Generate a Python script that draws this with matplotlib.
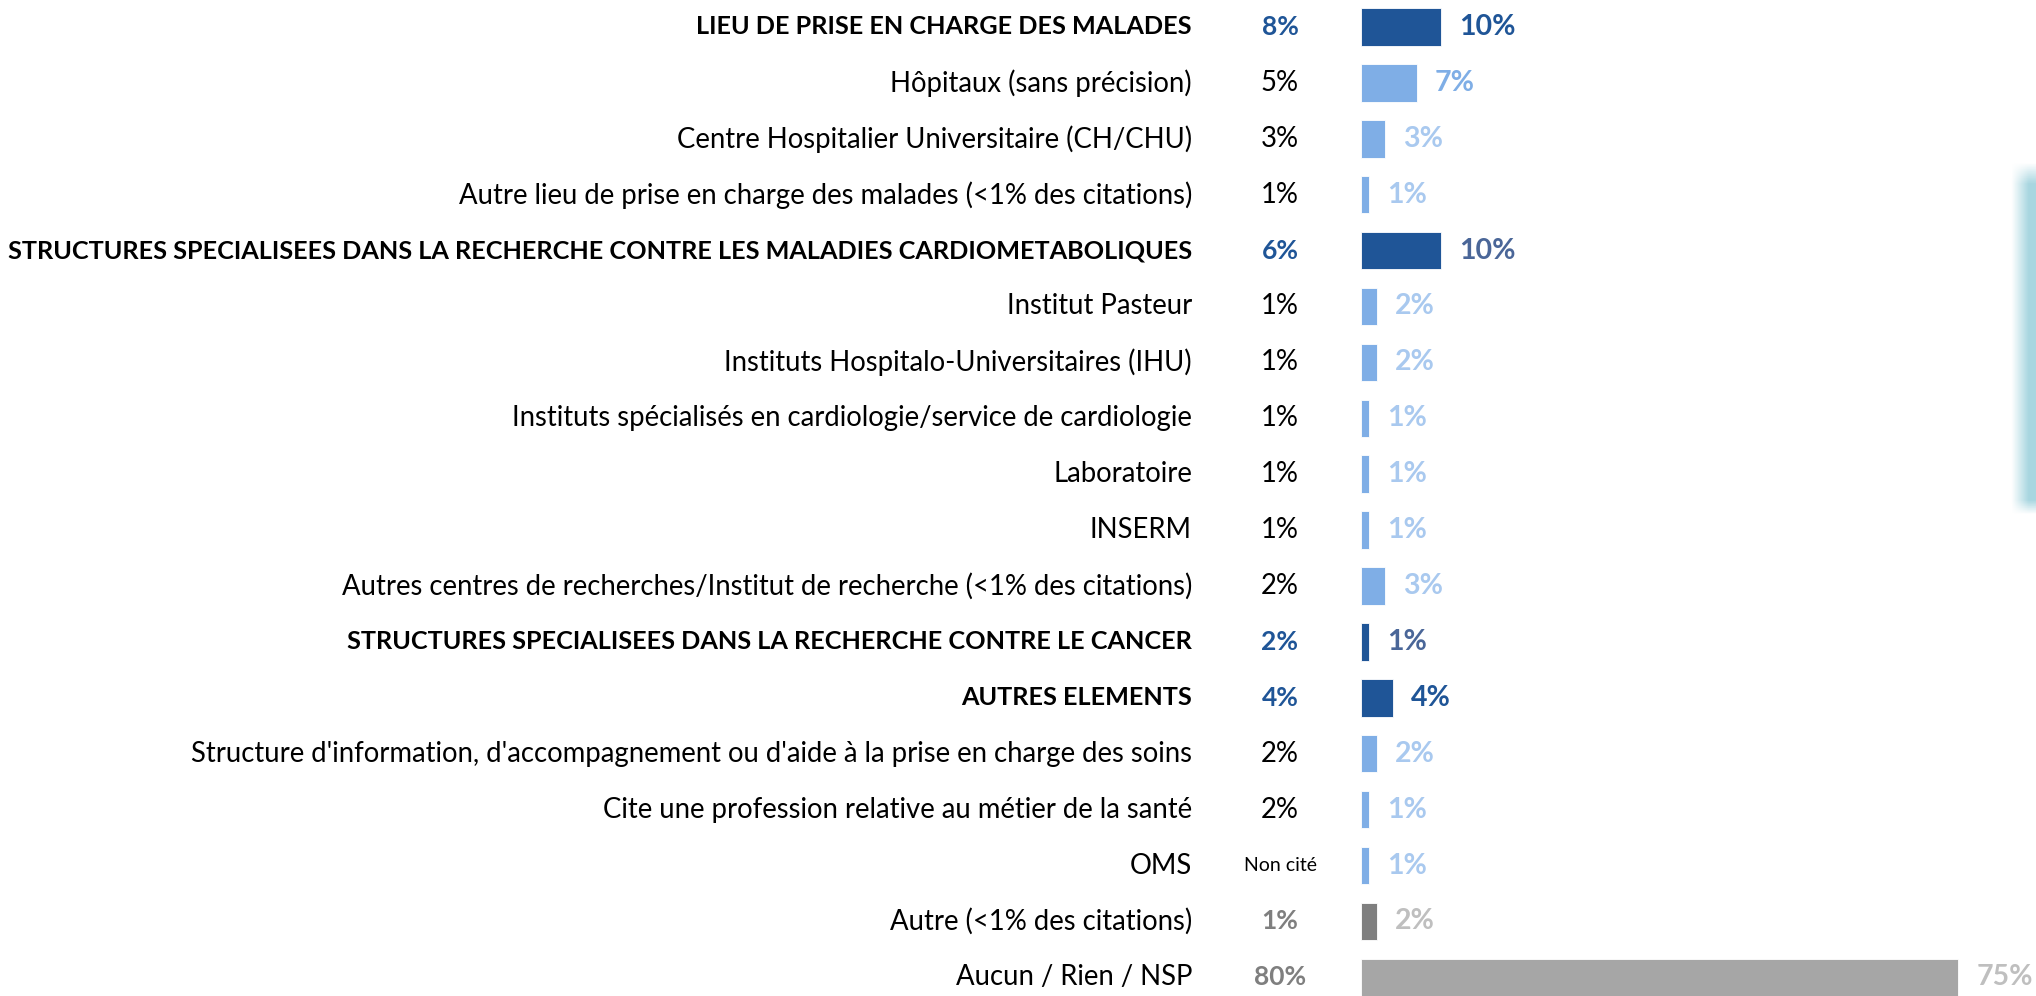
import matplotlib
matplotlib.use("Agg")
import matplotlib.pyplot as plt
import numpy as np

plt.rcParams['font.family'] = ['Lato', 'DejaVu Sans']

# rows, top to bottom
labels = [
    "LIEU DE PRISE EN CHARGE DES MALADES",
    "Hôpitaux (sans précision)",
    "Centre Hospitalier Universitaire (CH/CHU)",
    "Autre lieu de prise en charge des malades (<1% des citations)",
    "STRUCTURES SPECIALISEES DANS LA RECHERCHE CONTRE LES MALADIES CARDIOMETABOLIQUES",
    "Institut Pasteur",
    "Instituts Hospitalo-Universitaires (IHU)",
    "Instituts spécialisés en cardiologie/service de cardiologie",
    "Laboratoire",
    "INSERM",
    "Autres centres de recherches/Institut de recherche (<1% des citations)",
    "STRUCTURES SPECIALISEES DANS LA RECHERCHE CONTRE LE CANCER",
    "AUTRES ELEMENTS",
    "Structure d'information, d'accompagnement ou d'aide à la prise en charge des soins",
    "Cite une profession relative au métier de la santé",
    "OMS",
    "Autre (<1% des citations)",
    "Aucun / Rien / NSP",
]
previous = ["8%", "5%", "3%", "1%", "6%", "1%", "1%", "1%", "1%", "1%", "2%",
            "2%", "4%", "2%", "2%", "Non cité", "1%", "80%"]
values = [10, 7, 3, 1, 10, 2, 2, 1, 1, 1, 3, 1, 4, 2, 1, 1, 2, 75]
# row kind: h = heading, s = sub item, o = other, n = none
kinds = ["h", "s", "s", "s", "h", "s", "s", "s", "s", "s", "s", "h", "h",
         "s", "s", "s", "o", "n"]

W, H = 2036, 996
fig = plt.figure(figsize=(W / 100, H / 100), dpi=100)

x0 = 1361          # pixel where bars start
px_per = 7.96      # pixels per percent
row_top, step = 27, 55.9

ax = fig.add_axes([x0 / W, 0, 1 - x0 / W, 1])
ax.set_xlim(0, (W - x0) / px_per)
n = len(labels)
ax.set_ylim(n - 1 + (H - (row_top + step * (n - 1))) / step, -row_top / step)
ax.axis("off")

bar_col = {"h": "#1F5597", "s": "#7FAEE6", "o": "#7F7F7F", "n": "#A6A6A6"}
val_col = {"h": "#1F5597", "s": "#A9C9EF", "o": "#BFBFBF", "n": "#BFBFBF"}
prev_col = {"h": "#1F5597", "s": "black", "o": "#7F7F7F", "n": "#7F7F7F"}

y = np.arange(n)
ax.barh(y, values, height=0.67, color=[bar_col[k] for k in kinds],
        edgecolor="white", linewidth=0.6)

lab_x = (1192 - x0) / px_per
prev_x = (1280 - x0) / px_per
for i in range(n):
    k = kinds[i]
    ax.text(lab_x, i, labels[i], ha="right", va="center",
            fontsize=18.2 if k == "h" else 19.8,
            fontweight="bold" if k == "h" else "normal", color="black",
            clip_on=False)
    small = previous[i] == "Non cité"
    bold_prev = not (k == "s" or small)
    ax.text(prev_x, i, previous[i], ha="center", va="center",
            fontsize=14 if small else (19 if bold_prev else 19.8),
            fontweight="bold" if bold_prev else "normal",
            color="black" if small else prev_col[k], clip_on=False)
    vc = val_col[k]
    if k == "h" and i in (4, 11):
        vc = "#4A6698"
    if k == "s" and values[i] >= 5:
        vc = "#7FAEE6"
    ax.text(values[i] + 2.3, i, f"{values[i]}%", ha="left", va="center",
            fontsize=20.5, fontweight="bold", color=vc, clip_on=False)

# soft cyan strip on the right edge
gx = np.clip(np.linspace(-0.3, 1.4, 40), 0, 1)
gy = np.clip(np.minimum(np.linspace(0, 1, 200) / 0.06, np.linspace(1, 0, 200) / 0.04), 0, 1)
alpha = gy[:, None] * gx[None, :]
img = np.zeros((200, 40, 4))
img[..., 0] = 0.66
img[..., 1] = 0.84
img[..., 2] = 0.88
img[..., 3] = alpha
cax = fig.add_axes([2006 / W, 1 - 515 / H, 30 / W, 352 / H])
cax.imshow(img, aspect="auto")
cax.axis("off")

fig.savefig("out.png", dpi=100)
